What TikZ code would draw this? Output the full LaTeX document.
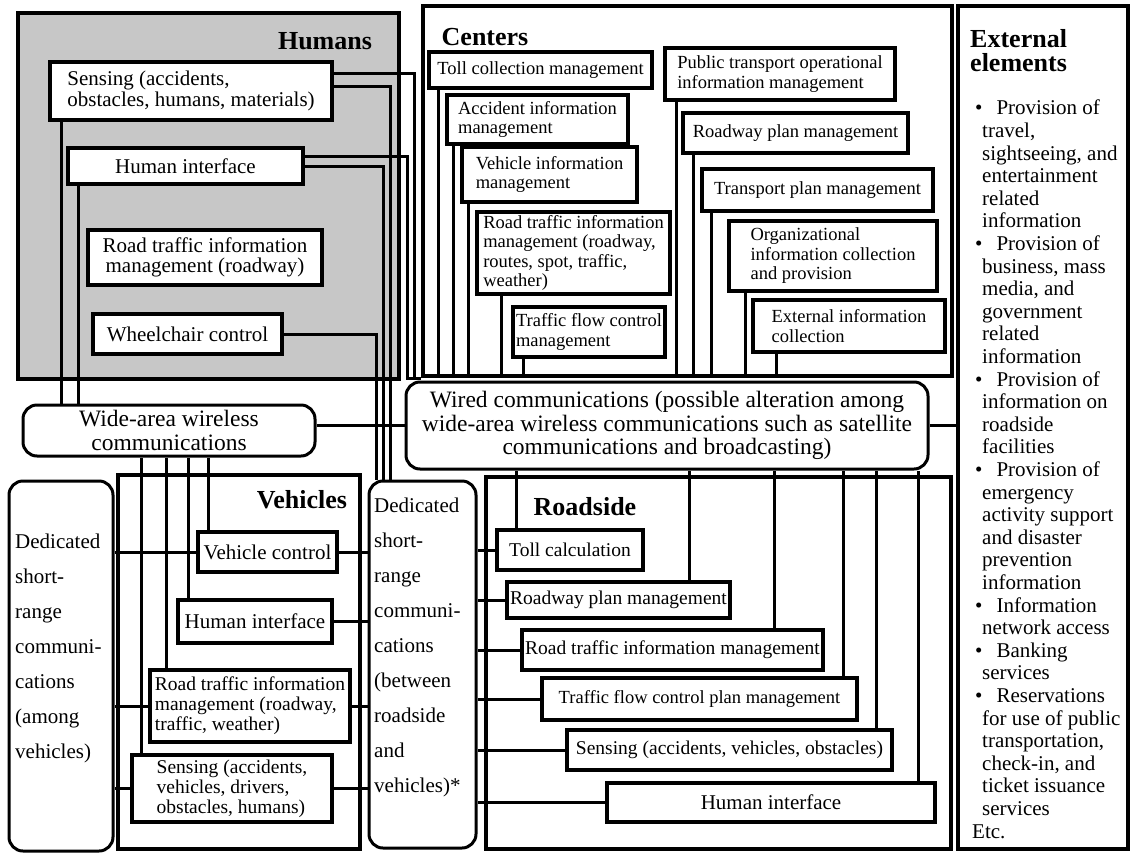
\documentclass[tikz,border=0pt]{standalone}
\usepackage{fontspec}
\setmainfont{Liberation Serif}
\usetikzlibrary{fit}

\newcommand{\extbul}{\hspace*{3pt}\textbullet\hspace*{14pt}}
\newcommand{\extind}{\hspace*{10pt}}

\begin{document}
\begin{tikzpicture}[x=1pt, y=-1pt]
        \tikzset{spot/.style n args = {4}{at={({(#1+#3)/2},{(#2+#4)/2})}, minimum width={(#3-#1)*1pt}, minimum height={(#4-#2)*1pt}}}
        \tikzset{frame/.style = {draw, line width=4.5pt, inner sep=0pt}}
        \tikzset{box/.style = {draw, line width=3.5pt, fill=white, inner sep=0pt, align=center}}
        \tikzset{comm/.style = {box, line width=3pt, rounded corners=14pt}}
        \tikzset{wire/.style = {line width=3pt}}
        \tikzset{grp/.style = {font=\bfseries\fontsize{26}{26}\selectfont}}
        \tikzset{hum/.style = {box, font=\fontsize{21}{20.5}\selectfont}}
        \tikzset{cen/.style = {box, font=\fontsize{18.5}{19.5}\selectfont}}
        \tikzset{veh/.style = {box, font=\fontsize{19.5}{20}\selectfont}}
        \tikzset{rds/.style = {box, font=\fontsize{19.5}{20}\selectfont}}

        \useasboundingbox (0,0) rectangle (1132,854);

        \node[frame, fill=black!22, fit={(18,13) (399,379)}] (humans) {};
        \node[frame, fit={(423,6) (952,376)}] (centers) {};
        \node[frame, fit={(118,475) (360,849)}] (vehicles) {};
        \node[frame, fit={(486,477) (951,849)}] (roadside) {};
        \node[frame, line width=4pt, fit={(958,6) (1128,849)}] (ext) {};

        \node[grp] (humanslbl) at (325,41) {Humans};
        \node[grp] (centerslbl) at (485,37) {Centers};
        \node[grp] (vehicleslbl) at (302,500) {Vehicles};
        \node[grp] (roadsidelbl) at (585,507) {Roadside};

        \node[hum, align=left, spot={50}{62}{332}{120}] (hsense) {Sensing (accidents,\\obstacles, humans, materials)};
        \node[hum, spot={68}{148}{303}{184}] (hhif) {Human interface};
        \node[hum, spot={88}{230}{322}{285}] (hroad) {Road traffic information\\management (roadway)};
        \node[hum, spot={93}{314}{282}{354}] (hwheel) {Wheelchair control};

        \node[cen, spot={429}{52}{652}{88}] (ctoll) {Toll collection management};
        \node[cen, align=left, spot={447}{95}{628}{144}] (cacc) {Accident information\\management};
        \node[cen, align=left, spot={462}{147}{637}{202}] (cveh) {Vehicle information\\management};
        \node[cen, align=left, spot={477}{212}{670}{294}] (ctraffic) {Road traffic information\\management (roadway,\\routes, spot, traffic,\\weather)};
        \node[cen, align=left, spot={513}{307}{665}{357}] (cflow) {Traffic flow control\\management};
        \node[cen, align=left, spot={665}{48}{895}{100}] (cpub) {Public transport operational\\information management};
        \node[cen, spot={683}{113}{908}{153}] (croadway) {Roadway plan management};
        \node[cen, spot={702}{169}{933}{211}] (ctrans) {Transport plan management};
        \node[cen, align=left, spot={729}{221}{937}{291}] (corg) {Organizational\\information collection\\and provision};
        \node[cen, align=left, spot={753}{300}{945}{352}] (cext) {External information\\collection};

        \node[veh, font=\fontsize{21}{20}\selectfont, spot={198}{532}{337}{572}] (vctrl) {Vehicle control};
        \node[veh, font=\fontsize{21}{20}\selectfont, spot={178}{600}{332}{643}] (vhif) {Human interface};
        \node[veh, align=left, spot={150}{670}{350}{742}] (vroad) {Road traffic information\\management (roadway,\\traffic, weather)};
        \node[veh, align=left, spot={132}{755}{332}{822}] (vsense) {Sensing (accidents,\\vehicles, drivers,\\obstacles, humans)};

        \node[rds, spot={497}{530}{643}{570}] (rtoll) {Toll calculation};
        \node[rds, spot={507}{582}{730}{618}] (rroadway) {Roadway plan management};
        \node[rds, spot={522}{630}{823}{670}] (rtraffic) {Road traffic information management};
        \node[rds, font=\fontsize{18.5}{20}\selectfont, spot={542}{678}{857}{720}] (rflow) {Traffic flow control plan management};
        \node[rds, spot={567}{730}{892}{770}] (rsense) {Sensing (accidents, vehicles, obstacles)};
        \node[rds, font=\fontsize{21}{20}\selectfont, spot={607}{783}{935}{822}] (rhif) {Human interface};

        \node[comm, font=\fontsize{23.5}{23.5}\selectfont, spot={23}{405}{315}{456}] (wide) {Wide-area wireless\\communications};
        \node[comm, font=\fontsize{23.5}{23.5}\selectfont, spot={406}{382}{928}{469}] (wired) {Wired communications (possible alteration among\\wide-area wireless communications such as satellite\\communications and broadcasting)};
        \node[comm, spot={9}{481}{113}{851}] (dsrcv) {};
        \node[comm, spot={369}{481}{476}{848}] (dsrcr) {};
        \node[anchor=north west, inner sep=0pt, align=left, font=\fontsize{21}{35}\selectfont] (dsrcvtxt) at (15,534) {Dedicated\\short-\\range\\communi-\\cations\\(among\\vehicles)};
        \node[anchor=north west, inner sep=0pt, align=left, font=\fontsize{21}{35}\selectfont] (dsrcrtxt) at (374,498) {Dedicated\\short-\\range\\communi-\\cations\\(between\\roadside\\and\\vehicles)*};

        \node[anchor=north west, inner sep=0pt, align=left, font=\bfseries\fontsize{26}{24}\selectfont] (exttitle) at (970,29) {External\\elements};
        \node[anchor=north west, inner sep=0pt, align=left, font=\fontsize{21}{22.6}\selectfont] (extlist) at (972,100) {\extbul Provision of\\
        \extind travel,\\
        \extind sightseeing, and\\
        \extind entertainment\\
        \extind related\\
        \extind information\\
        \extbul Provision of\\
        \extind business, mass\\
        \extind media, and\\
        \extind government\\
        \extind related\\
        \extind information\\
        \extbul Provision of\\
        \extind information on\\
        \extind roadside\\
        \extind facilities\\
        \extbul Provision of\\
        \extind emergency\\
        \extind activity support\\
        \extind and disaster\\
        \extind prevention\\
        \extind information\\
        \extbul Information\\
        \extind network access\\
        \extbul Banking\\
        \extind services\\
        \extbul Reservations\\
        \extind for use of public\\
        \extind transportation,\\
        \extind check-in, and\\
        \extind ticket issuance\\
        \extind services\\
        Etc.};

        \draw[wire] ([xshift=13]hsense.south west) -- ([xshift=13]hsense.south west |- wide.north);
        \draw[wire] ([xshift=12]hhif.south west) -- ([xshift=12]hhif.south west |- wide.north);
        \draw[wire] ([yshift=-13]hsense.north east) -| ([xshift=-6]centers.south west) -- (centers.south west);
        \draw[wire] ([yshift=-10]hhif.north east) -| ([xshift=-13]centers.south west) -- (centers.south west);
        \draw[wire] ([yshift=-26]hsense.north east) -| ([xshift=23]dsrcr.north west);
        \draw[wire] ([yshift=-20]hhif.north east) -| ([xshift=16]dsrcr.north west);
        \draw[wire] (hwheel.east) -| ([xshift=9]dsrcr.north west);

        \draw[wire] ([xshift=11]ctoll.south west) -- ([xshift=11]ctoll.south west |- centers.south);
        \draw[wire] ([xshift=8]cacc.south west) -- ([xshift=8]cacc.south west |- centers.south);
        \draw[wire] ([xshift=8]cveh.south west) -- ([xshift=8]cveh.south west |- centers.south);
        \draw[wire] ([xshift=26]ctraffic.south west) -- ([xshift=26]ctraffic.south west |- centers.south);
        \draw[wire] ([xshift=12]cflow.south west) -- ([xshift=12]cflow.south west |- centers.south);
        \draw[wire] ([xshift=13]cpub.south west) -- ([xshift=13]cpub.south west |- centers.south);
        \draw[wire] ([xshift=12]croadway.south west) -- ([xshift=12]croadway.south west |- centers.south);
        \draw[wire] ([xshift=11]ctrans.south west) -- ([xshift=11]ctrans.south west |- centers.south);
        \draw[wire] ([xshift=18]corg.south west) -- ([xshift=18]corg.south west |- centers.south);
        \draw[wire] ([xshift=25]cext.south west) -- ([xshift=25]cext.south west |- centers.south);

        \draw[wire] (wired.west) -- (wired.west -| wide.east);
        \draw[wire] (wired.east) -- (wired.east -| ext.west);

        \draw[wire] ([xshift=11]vsense.north west) -- ([xshift=11]vsense.north west |- wide.south);
        \draw[wire] ([xshift=18]vroad.north west) -- ([xshift=18]vroad.north west |- wide.south);
        \draw[wire] ([xshift=12]vhif.north west) -- ([xshift=12]vhif.north west |- wide.south);
        \draw[wire] ([xshift=12]vctrl.north west) -- ([xshift=12]vctrl.north west |- wide.south);

        \draw[wire] (vctrl.west) -- (vctrl.west -| dsrcv.east);
        \draw[wire] (vroad.west) -- (vroad.west -| dsrcv.east);
        \draw[wire] (vsense.west) -- (vsense.west -| dsrcv.east);
        \draw[wire] (vctrl.east) -- (vctrl.east -| dsrcr.west);
        \draw[wire] (vhif.east) -- (vhif.east -| dsrcr.west);
        \draw[wire] (vroad.east) -- (vroad.east -| dsrcr.west);
        \draw[wire] (vsense.east) -- (vsense.east -| dsrcr.west);

        \draw[wire] (rtoll.west) -- (rtoll.west -| dsrcr.east);
        \draw[wire] (rroadway.west) -- (rroadway.west -| dsrcr.east);
        \draw[wire] (rtraffic.west) -- (rtraffic.west -| dsrcr.east);
        \draw[wire] (rflow.west) -- (rflow.west -| dsrcr.east);
        \draw[wire] (rsense.west) -- (rsense.west -| dsrcr.east);
        \draw[wire] (rhif.west) -- (rhif.west -| dsrcr.east);

        \draw[wire] ([xshift=21]rtoll.north west) -- ([xshift=21]rtoll.north west |- wired.south);
        \draw[wire] ([xshift=-42]rroadway.north east) -- ([xshift=-42]rroadway.north east |- wired.south);
        \draw[wire] ([xshift=-50]rtraffic.north east) -- ([xshift=-50]rtraffic.north east |- wired.south);
        \draw[wire] ([xshift=-15]rflow.north east) -- ([xshift=-15]rflow.north east |- wired.south);
        \draw[wire] ([xshift=-17]rsense.north east) -- ([xshift=-17]rsense.north east |- wired.south);
        \draw[wire] ([xshift=-18]rhif.north east) -- ([xshift=-18]rhif.north east |- wired.south);

\end{tikzpicture}
\end{document}
